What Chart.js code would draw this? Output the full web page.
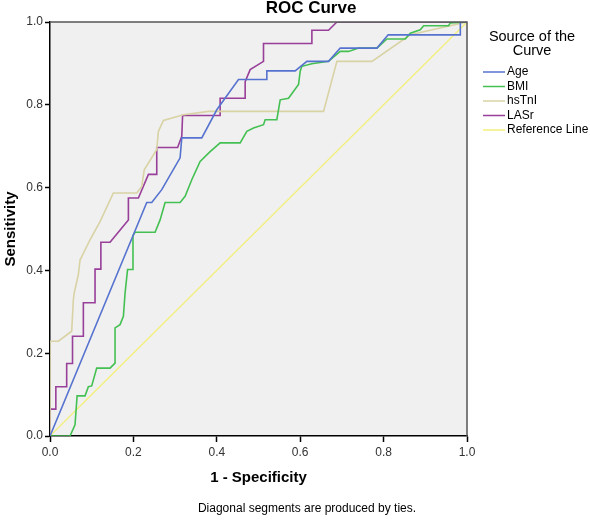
<!DOCTYPE html>
<html>
<head>
<meta charset="utf-8">
<script src="https://cdn.jsdelivr.net/npm/chart.js@4.4.1/dist/chart.umd.min.js"></script>
<style>
  html, body { margin: 0; padding: 0; background: #fff; }
</style>
</head>
<body>
<canvas id="rocChart" width="590" height="521"></canvas>
<script>
// ROC curves (x = 1 - specificity, y = sensitivity)
const ageX = [0, 0.232, 0.244, 0.268, 0.312, 0.316, 0.364, 0.400, 0.452, 0.520, 0.520, 0.588, 0.616, 0.668, 0.696, 0.784, 0.811, 0.984, 0.984, 1.0];
const ageY = [0, 0.564, 0.564, 0.595, 0.672, 0.720, 0.720, 0.788, 0.861, 0.861, 0.882, 0.882, 0.905, 0.905, 0.937, 0.937, 0.969, 0.969, 1.0, 1.0];

const bmiX = [0, 0.048, 0.060, 0.065, 0.084, 0.092, 0.100, 0.112, 0.144, 0.156, 0.156, 0.168, 0.176, 0.180, 0.186, 0.197, 0.199, 0.204, 0.252, 0.264, 0.276, 0.312, 0.324, 0.340, 0.360, 0.384, 0.408, 0.456, 0.472, 0.488, 0.512, 0.516, 0.544, 0.552, 0.572, 0.596, 0.600, 0.604, 0.628, 0.668, 0.696, 0.716, 0.740, 0.784, 0.808, 0.852, 0.864, 0.888, 0.896, 0.956, 0.960, 1.0];
const bmiY = [0, 0, 0.027, 0.097, 0.097, 0.119, 0.121, 0.164, 0.164, 0.176, 0.261, 0.269, 0.289, 0.345, 0.402, 0.402, 0.484, 0.492, 0.492, 0.522, 0.564, 0.564, 0.579, 0.619, 0.663, 0.687, 0.708, 0.708, 0.736, 0.744, 0.752, 0.764, 0.764, 0.812, 0.816, 0.849, 0.881, 0.893, 0.899, 0.905, 0.929, 0.929, 0.937, 0.937, 0.959, 0.959, 0.973, 0.981, 0.991, 0.991, 0.998, 1.0];

const tnX = [0, 0, 0.020, 0.052, 0.056, 0.058, 0.068, 0.072, 0.096, 0.120, 0.152, 0.208, 0.220, 0.226, 0.256, 0.260, 0.272, 0.320, 0.380, 0.656, 0.688, 0.772, 0.864, 1.0];
const tnY = [0, 0.229, 0.229, 0.253, 0.329, 0.345, 0.390, 0.425, 0.474, 0.518, 0.587, 0.587, 0.603, 0.643, 0.692, 0.736, 0.762, 0.776, 0.784, 0.784, 0.905, 0.905, 0.969, 1.0];

const lasrX = [0, 0, 0.014, 0.014, 0.040, 0.040, 0.054, 0.054, 0.080, 0.080, 0.108, 0.108, 0.122, 0.122, 0.144, 0.188, 0.188, 0.212, 0.236, 0.256, 0.256, 0.306, 0.316, 0.318, 0.408, 0.408, 0.468, 0.468, 0.480, 0.512, 0.512, 0.628, 0.628, 0.668, 0.688, 1.0];
const lasrY = [0, 0.065, 0.065, 0.119, 0.119, 0.175, 0.175, 0.241, 0.241, 0.322, 0.322, 0.403, 0.403, 0.468, 0.468, 0.522, 0.575, 0.575, 0.632, 0.632, 0.697, 0.697, 0.724, 0.774, 0.774, 0.816, 0.816, 0.856, 0.885, 0.905, 0.948, 0.948, 0.980, 0.980, 1.0, 1.0];

const refX = [0, 1];
const refY = [0, 1];

const seriesNames = ['Age', 'BMI', 'hsTnI', 'LASr', 'Reference Line'];
const tickValues = [0, 0.2, 0.4, 0.6, 0.8, 1.0];

const colors = ['#5672cf', '#44c052', '#d8d2a4', '#983f99', '#f3ef7c'];
const FONT = '"Liberation Sans", Arial, sans-serif';

function toPoints(xs, ys) {
    const pts = [];
    for (let i = 0; i < xs.length; i++) {
        pts.push({ x: xs[i], y: ys[i] });
    }
    return pts;
}

const seriesData = [
    toPoints(ageX, ageY),
    toPoints(bmiX, bmiY),
    toPoints(tnX, tnY),
    toPoints(lasrX, lasrY),
    toPoints(refX, refY)
];

// grey plot background, frame, title, legend and footnote
const rocDecor = {
    id: 'rocDecor',
    beforeDraw(chart) {
        const { ctx, chartArea: a } = chart;
        ctx.save();
        ctx.fillStyle = '#f0f0f0';
        ctx.fillRect(a.left, a.top, a.right - a.left, a.bottom - a.top);
        ctx.restore();
    },
    afterDraw(chart) {
        const { ctx, chartArea: a } = chart;
        ctx.save();
        // top and right edges of the frame
        ctx.strokeStyle = '#555';
        ctx.lineWidth = 1.5;
        ctx.beginPath();
        ctx.moveTo(a.left, a.top);
        ctx.lineTo(a.right, a.top);
        ctx.lineTo(a.right, a.bottom);
        ctx.stroke();

        ctx.fillStyle = '#000';
        ctx.textAlign = 'center';
        ctx.textBaseline = 'middle';
        ctx.font = 'bold 17px ' + FONT;
        ctx.fillText('ROC Curve', 311, 8);

        ctx.font = '12px ' + FONT;
        ctx.fillText('Diagonal segments are produced by ties.', 307, 509);

        // legend
        ctx.font = '14.5px ' + FONT;
        ctx.fillText('Source of the', 532, 37);
        ctx.fillText('Curve', 532, 51);

        ctx.font = '12px ' + FONT;
        ctx.textAlign = 'left';
        chart.data.datasets.forEach((ds, i) => {
            const y = 72 + i * 14.5;
            ctx.strokeStyle = ds.borderColor;
            ctx.lineWidth = 1.5;
            ctx.beginPath();
            ctx.moveTo(483, y);
            ctx.lineTo(505, y);
            ctx.stroke();
            ctx.fillStyle = '#000';
            ctx.fillText(ds.label, 507, y);
        });
        ctx.restore();
    }
};

const ctx = document.getElementById('rocChart');

new Chart(ctx, {
    type: 'scatter',
    data: {
        datasets: seriesData.map((pts, i) => ({
            label: seriesNames[i],
            data: pts,
            showLine: true,
            borderColor: colors[i],
            backgroundColor: colors[i],
            borderWidth: i === 4 ? 1.3 : 1.6,
            pointRadius: 0,
            tension: 0
        }))
    },
    options: {
        responsive: false,
        animation: false,
        devicePixelRatio: 1,
        layout: {
            padding: { left: 0, top: 22, right: 123, bottom: 0 }
        },
        plugins: {
            legend: { display: false },
            title: { display: false },
            tooltip: { enabled: false }
        },
        scales: {
            x: {
                type: 'linear',
                min: 0,
                max: 1,
                afterBuildTicks: s => { s.ticks = tickValues.map(v => ({ value: v })); },
                afterFit: s => { s.height = 85; },
                ticks: {
                    callback: v => v.toFixed(1),
                    color: '#333',
                    font: { family: FONT, size: 12 },
                    padding: 3,
                    maxRotation: 0
                },
                grid: { drawOnChartArea: false, tickLength: 6, color: '#000', tickWidth: 1.5 },
                border: { display: true, color: '#000', width: 1.5 },
                title: {
                    display: true,
                    text: '1 - Specificity',
                    color: '#000',
                    font: { family: FONT, size: 15, weight: 'bold' },
                    padding: { top: 0, bottom: 34 }
                }
            },
            y: {
                type: 'linear',
                min: 0,
                max: 1,
                afterBuildTicks: s => { s.ticks = tickValues.map(v => ({ value: v })); },
                afterFit: s => { s.width = 50; },
                ticks: {
                    callback: v => v.toFixed(1),
                    color: '#333',
                    font: { family: FONT, size: 12 },
                    padding: 2
                },
                grid: { drawOnChartArea: false, tickLength: 5, color: '#000', tickWidth: 1.5 },
                border: { display: true, color: '#000', width: 1.5 },
                title: {
                    display: true,
                    text: 'Sensitivity',
                    color: '#000',
                    font: { family: FONT, size: 15, weight: 'bold' },
                    padding: { top: 2, bottom: 0 }
                }
            }
        }
    },
    plugins: [rocDecor]
});
</script>
</body>
</html>
